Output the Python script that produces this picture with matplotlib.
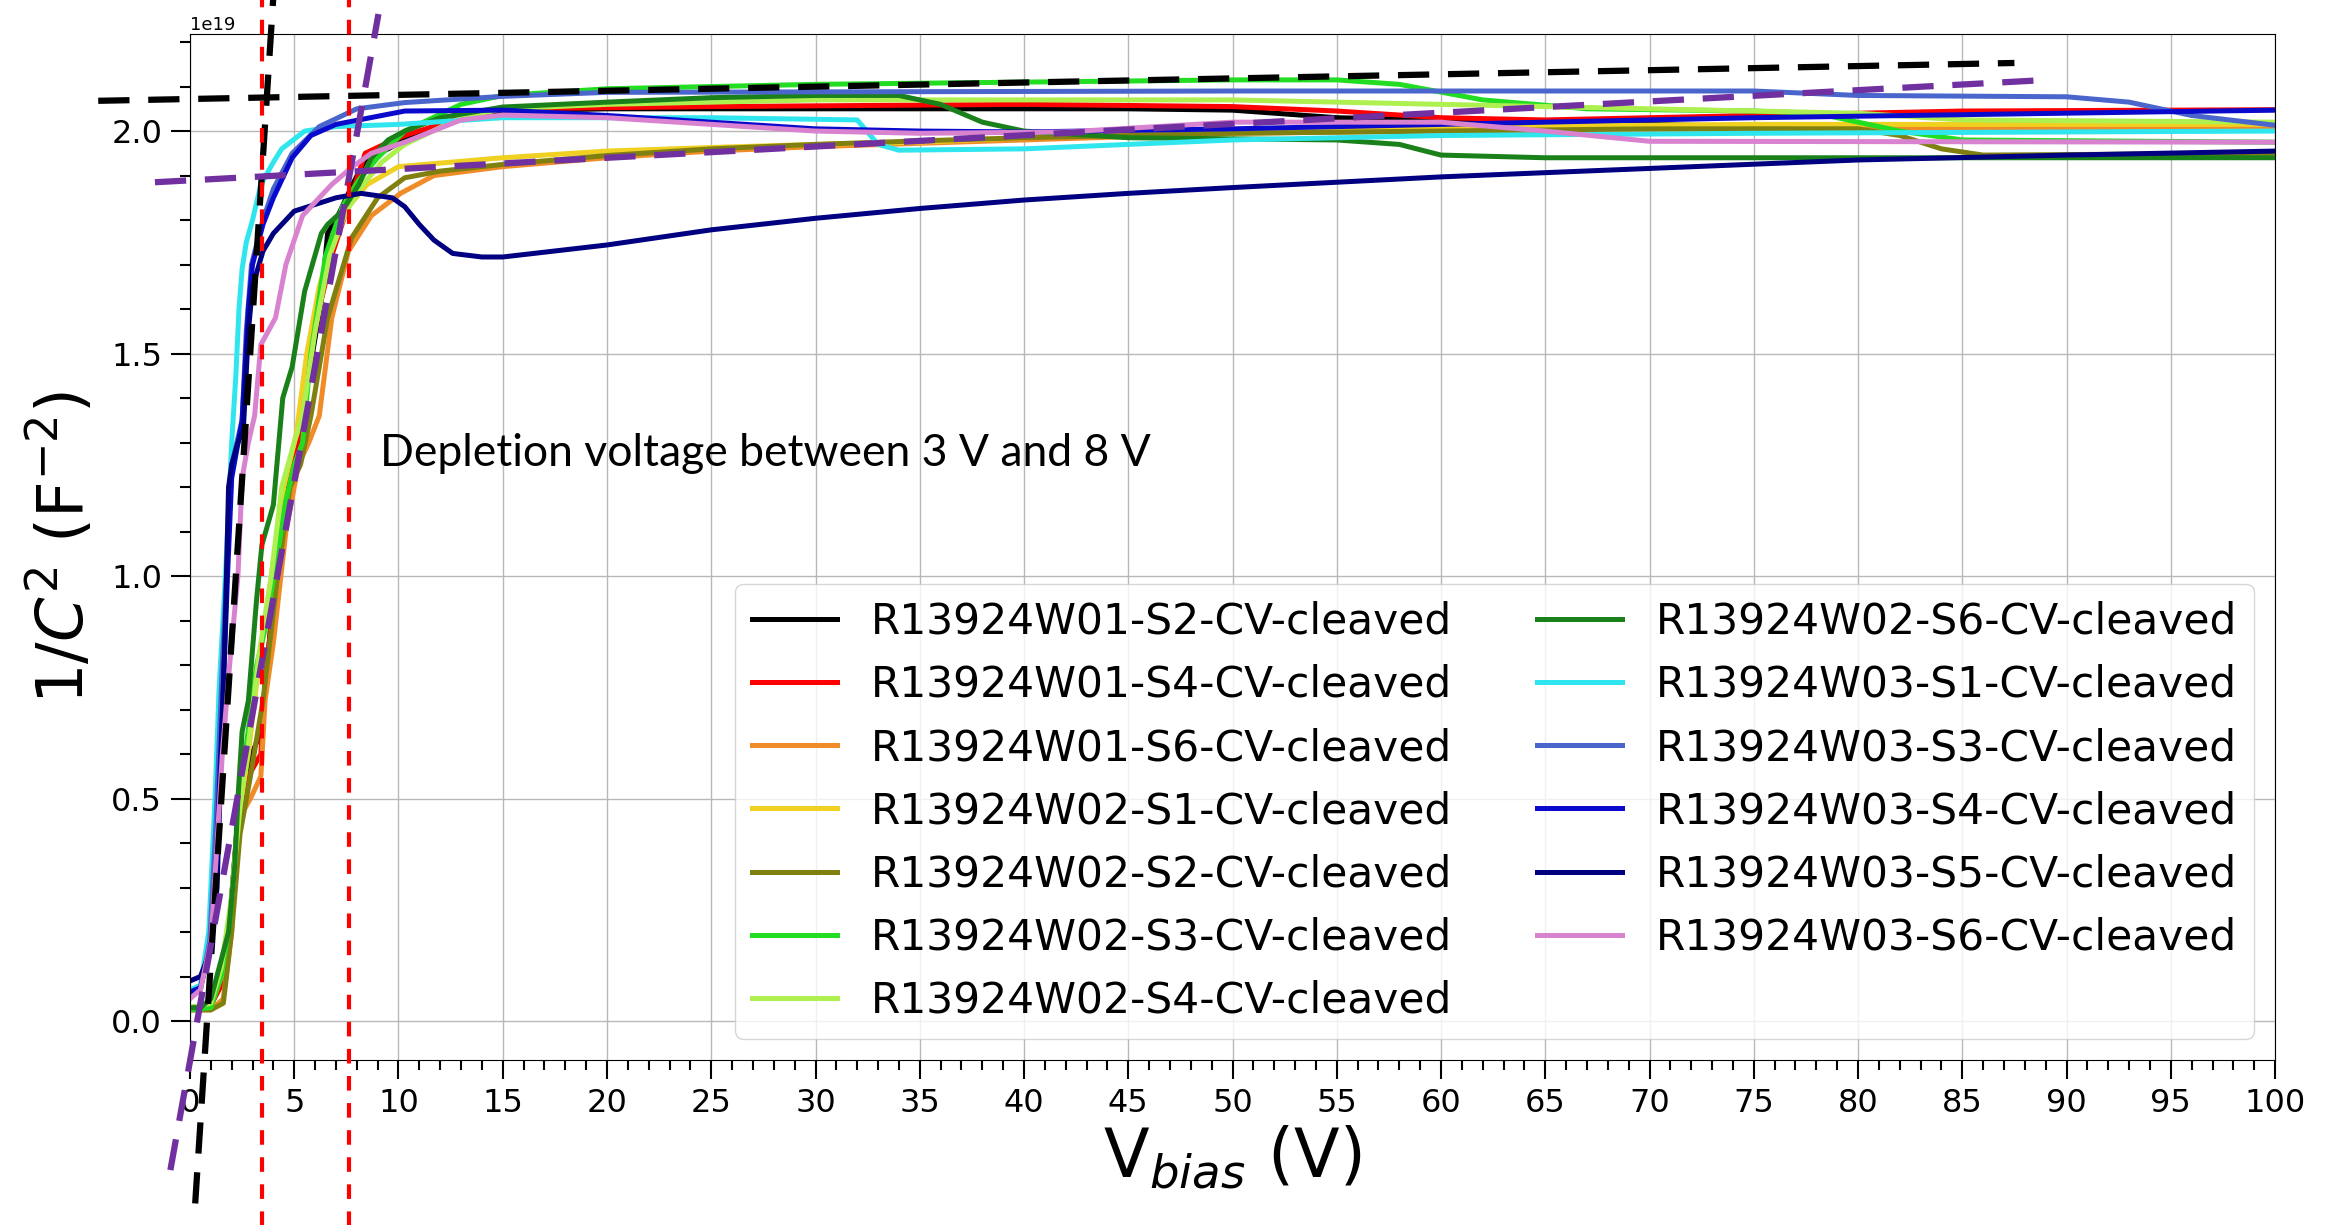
import matplotlib
matplotlib.use("Agg")
import matplotlib.pyplot as plt
from matplotlib.ticker import MultipleLocator
import numpy as np

# bias voltage (V) and 1/C^2 (units of 1e19 F^-2)
v_w01_s2 = [0, 1, 1.5, 1.9, 2.3, 2.8, 3.4, 3.7, 4.1, 4.6, 5.2, 5.7, 6.3, 6.6, 7.0, 7.8, 8.4, 9.5, 10.3, 13, 15, 20, 30, 45, 50, 55, 60, 75, 80, 100]
c_w01_s2 = [0.03, 0.035, 0.09, 0.22, 0.46, 0.58, 0.65, 0.8, 1.0, 1.2, 1.3, 1.45, 1.62, 1.77, 1.8, 1.88, 1.935, 1.96, 1.98, 2.03, 2.045, 2.05, 2.05, 2.05, 2.047, 2.03, 2.025, 2.01, 2.01, 2.01]

v_w01_s4 = [0, 1, 1.5, 1.9, 2.3, 2.8, 3.4, 3.6, 4.0, 4.5, 5.2, 5.6, 6.2, 6.8, 7.5, 8.4, 9.3, 10.3, 13, 15, 25, 40, 50, 55, 60, 65, 75, 85, 100]
c_w01_s4 = [0.03, 0.035, 0.08, 0.22, 0.45, 0.55, 0.6, 0.75, 0.95, 1.2, 1.3, 1.45, 1.6, 1.72, 1.82, 1.95, 1.97, 1.99, 2.03, 2.05, 2.055, 2.06, 2.055, 2.045, 2.03, 2.025, 2.035, 2.045, 2.048]

v_w01_s6 = [0, 1, 1.6, 2.0, 2.3, 2.9, 3.4, 3.6, 4.0, 4.6, 5.2, 5.7, 6.2, 6.8, 7.6, 8.7, 10.1, 11.7, 15, 20, 25, 30, 40, 50, 60, 80, 100]
c_w01_s6 = [0.025, 0.025, 0.05, 0.2, 0.45, 0.5, 0.55, 0.72, 0.85, 1.1, 1.25, 1.3, 1.36, 1.58, 1.73, 1.81, 1.86, 1.9, 1.92, 1.94, 1.955, 1.965, 1.98, 1.995, 2.0, 2.005, 2.01]

v_w02_s1 = [0, 1, 1.5, 1.9, 2.3, 2.8, 3.3, 3.9, 4.5, 5.1, 5.6, 6.2, 6.8, 7.6, 8.5, 10, 15, 20, 25, 30, 35, 40, 50, 60, 75, 100]
c_w02_s1 = [0.03, 0.035, 0.1, 0.22, 0.45, 0.6, 0.8, 1.0, 1.2, 1.32, 1.5, 1.65, 1.75, 1.83, 1.88, 1.92, 1.94, 1.955, 1.963, 1.97, 1.975, 1.985, 2.0, 2.01, 2.015, 2.015]

v_w02_s2 = [0, 1, 1.6, 2.0, 2.4, 2.9, 3.5, 4.2, 4.8, 5.3, 5.8, 6.6, 7.75, 9.0, 10.3, 12, 15, 20, 25, 30, 35, 40, 50, 60, 70, 80, 82, 84, 86, 100]
c_w02_s2 = [0.025, 0.025, 0.04, 0.2, 0.42, 0.55, 0.72, 1.0, 1.2, 1.25, 1.36, 1.58, 1.76, 1.85, 1.895, 1.91, 1.925, 1.945, 1.96, 1.97, 1.978, 1.985, 1.995, 2.0, 2.005, 2.005, 1.99, 1.96, 1.946, 1.95]

v_w02_s3 = [0, 1, 1.5, 1.9, 2.3, 2.7, 3.2, 3.6, 4.1, 4.6, 5.0, 5.4, 5.8, 6.5, 7.3, 8.1, 9.0, 10.3, 13, 15, 20, 30, 40, 50, 55, 58, 62, 67, 75, 78, 82, 85, 100]
c_w02_s3 = [0.025, 0.03, 0.1, 0.22, 0.45, 0.62, 0.8, 0.88, 1.02, 1.17, 1.25, 1.3, 1.5, 1.72, 1.83, 1.89, 1.94, 2.0, 2.06, 2.08, 2.095, 2.105, 2.11, 2.115, 2.115, 2.105, 2.07, 2.05, 2.045, 2.04, 2.0, 1.98, 1.975]

v_w02_s4 = [0, 1, 1.5, 2, 2.4, 2.8, 3.3, 3.9, 4.4, 5, 5.4, 6, 6.7, 7.5, 8.3, 9.2, 10.3, 13, 15, 20, 30, 50, 60, 70, 80, 85, 100]
c_w02_s4 = [0.03, 0.04, 0.12, 0.28, 0.48, 0.62, 0.82, 1.0, 1.2, 1.3, 1.36, 1.55, 1.72, 1.82, 1.88, 1.93, 1.97, 2.03, 2.05, 2.06, 2.07, 2.07, 2.06, 2.05, 2.04, 2.025, 2.02]

v_w02_s6 = [0, 0.5, 1.0, 1.4, 1.85, 2.15, 2.3, 2.5, 2.8, 3.2, 3.45, 4.0, 4.45, 4.9, 5.5, 6.3, 6.6, 7.3, 8.1, 8.7, 9.5, 10.3, 12, 15, 20, 25, 30, 34, 36, 38, 40, 45, 55, 58, 60, 65, 100]
c_w02_s6 = [0.03, 0.03, 0.05, 0.12, 0.2, 0.35, 0.5, 0.65, 0.72, 0.95, 1.07, 1.16, 1.4, 1.47, 1.64, 1.77, 1.79, 1.82, 1.88, 1.94, 1.98, 2.0, 2.03, 2.054, 2.065, 2.075, 2.08, 2.08, 2.06, 2.02, 2.0, 1.985, 1.98, 1.97, 1.946, 1.94, 1.94]

v_w03_s1 = [0, 0.5, 0.9, 1.2, 1.4, 1.7, 2.0, 2.2, 2.35, 2.5, 2.7, 3.0, 3.4, 4.0, 4.4, 5.5, 7, 10, 15, 25, 32, 33, 34, 40, 50, 60, 75, 100]
c_w03_s1 = [0.07, 0.08, 0.2, 0.5, 0.75, 1.0, 1.3, 1.45, 1.6, 1.69, 1.75, 1.8, 1.88, 1.93, 1.96, 2.0, 2.01, 2.015, 2.03, 2.03, 2.025, 1.97, 1.957, 1.96, 1.98, 1.99, 1.995, 2.0]

v_w03_s3 = [0, 0.5, 0.95, 1.25, 1.55, 1.8, 2.0, 2.5, 2.7, 2.95, 3.5, 4.0, 4.9, 6.2, 8, 10.3, 15, 20, 50, 75, 80, 90, 93, 96, 100]
c_w03_s3 = [0.06, 0.07, 0.18, 0.45, 0.8, 1.05, 1.25, 1.35, 1.55, 1.7, 1.8, 1.87, 1.95, 2.01, 2.05, 2.064, 2.078, 2.087, 2.09, 2.09, 2.08, 2.077, 2.065, 2.035, 2.013]

v_w03_s4 = [0, 0.5, 1.0, 1.3, 1.6, 1.8, 2.0, 2.5, 2.8, 3.0, 3.5, 4.0, 4.9, 5.8, 7, 10.3, 15, 20, 25, 30, 35, 40, 50, 60, 75, 100]
c_w03_s4 = [0.065, 0.075, 0.17, 0.4, 0.75, 1.0, 1.22, 1.35, 1.6, 1.7, 1.79, 1.85, 1.94, 1.99, 2.015, 2.045, 2.047, 2.035, 2.02, 2.005, 2.0, 1.998, 2.005, 2.015, 2.03, 2.047]

v_w03_s5 = [0, 0.5, 1.0, 1.3, 1.5, 1.7, 1.85, 2.0, 2.3, 2.56, 2.8, 3.0, 3.5, 4.0, 5.0, 7.0, 8.2, 9.7, 10.3, 11.0, 11.7, 12.6, 14, 15, 20, 25, 30, 35, 40, 45, 50, 60, 70, 80, 90, 100]
c_w03_s5 = [0.09, 0.1, 0.16, 0.3, 0.6, 0.9, 1.2, 1.25, 1.3, 1.33, 1.55, 1.65, 1.73, 1.77, 1.82, 1.85, 1.86, 1.85, 1.83, 1.79, 1.755, 1.725, 1.717, 1.717, 1.744, 1.778, 1.804, 1.826, 1.845, 1.86, 1.873, 1.897, 1.916, 1.935, 1.946, 1.955]

v_w03_s6 = [0, 0.5, 1.0, 1.3, 1.55, 1.9, 2.3, 2.5, 2.8, 3.1, 3.4, 4.1, 4.6, 5.4, 6.2, 6.8, 7.8, 8.7, 10.3, 13, 15, 20, 25, 30, 35, 42, 50, 60, 65, 70, 100]
c_w03_s6 = [0.05, 0.07, 0.18, 0.4, 0.6, 0.8, 1.0, 1.22, 1.3, 1.36, 1.52, 1.58, 1.70, 1.81, 1.85, 1.88, 1.92, 1.95, 1.975, 2.025, 2.036, 2.03, 2.015, 2.0, 1.995, 1.998, 2.02, 2.02, 2.0, 1.977, 1.975]

labels = ["R13924W01-S2-CV-cleaved", "R13924W01-S4-CV-cleaved", "R13924W01-S6-CV-cleaved",
          "R13924W02-S1-CV-cleaved", "R13924W02-S2-CV-cleaved", "R13924W02-S3-CV-cleaved",
          "R13924W02-S4-CV-cleaved", "R13924W02-S6-CV-cleaved", "R13924W03-S1-CV-cleaved",
          "R13924W03-S3-CV-cleaved", "R13924W03-S4-CV-cleaved", "R13924W03-S5-CV-cleaved",
          "R13924W03-S6-CV-cleaved"]
colors = ["black", "red", "#f08c28", "#f0d020", "#808010", "#22dd22", "#adf050",
          "#1a801a", "#30e6ee", "#4a66cc", "#0a0acc", "#000080", "#d982cf"]
volts = [v_w01_s2, v_w01_s4, v_w01_s6, v_w02_s1, v_w02_s2, v_w02_s3, v_w02_s4,
         v_w02_s6, v_w03_s1, v_w03_s3, v_w03_s4, v_w03_s5, v_w03_s6]
invc2 = [c_w01_s2, c_w01_s4, c_w01_s6, c_w02_s1, c_w02_s2, c_w02_s3, c_w02_s4,
         c_w02_s6, c_w03_s1, c_w03_s3, c_w03_s4, c_w03_s5, c_w03_s6]

# hand drawn fit lines (V, 1e19 F^-2) and depletion markers
fit_black_steep = ([0.25, 4.05], [-0.41, 2.34])
fit_black_flat = ([-4.4, 87.5], [2.068, 2.153])
fit_purple_steep = ([-0.94, 9.04], [-0.335, 2.263])
fit_purple_flat = ([-1.68, 89.1], [1.885, 2.115])
depletion_v = [3.45, 7.65]

fig = plt.figure(figsize=(23.31, 12.25), dpi=100)
ax = fig.add_axes([0.0815, 0.1347, 0.8945, 0.8375])

for v, c, col, lab in zip(volts, invc2, colors, labels):
    ax.plot(v, np.array(c) * 1e19, color=col, lw=3.6, label=lab)

for (xs, ys), col in [(fit_black_steep, "black"), (fit_black_flat, "black"),
                      (fit_purple_steep, "#7030a0"), (fit_purple_flat, "#7030a0")]:
    ax.plot(xs, np.array(ys) * 1e19, color=col, lw=4.5, dashes=(5, 3),
            clip_on=False, zorder=5)

for xv in depletion_v:
    ax.axvline(xv, ymin=-0.2, ymax=1.1, color="red", lw=3, dashes=(3.5, 3),
               clip_on=False, zorder=6)

ax.text(9.1, 1.276e19, "Depletion voltage between 3 V and 8 V", fontsize=32,
        family="Lato", va="center", ha="left")

ax.set_xlim(0, 100)
ax.set_ylim(-0.0876e19, 2.218e19)
ax.xaxis.set_major_locator(MultipleLocator(5))
ax.xaxis.set_minor_locator(MultipleLocator(1))
ax.yaxis.set_major_locator(MultipleLocator(0.5e19))
ax.yaxis.set_minor_locator(MultipleLocator(0.1e19))
ax.tick_params(which="major", length=14, width=1.5, labelsize=23, pad=6)
ax.tick_params(which="minor", length=7, width=1.5)
ax.yaxis.get_offset_text().set_fontsize(13)
ax.grid(True, which="major", color="#b8b8b8", lw=1)

ax.set_xlabel("V$_{bias}$ (V)", fontsize=48, labelpad=4)
ax.set_ylabel("1/$C^2$ (F$^{-2}$)", fontsize=46, labelpad=10)

ax.legend(loc="lower right", ncol=2, fontsize=30.5, handlelength=2.0)

fig.savefig("out.png", dpi=100)
